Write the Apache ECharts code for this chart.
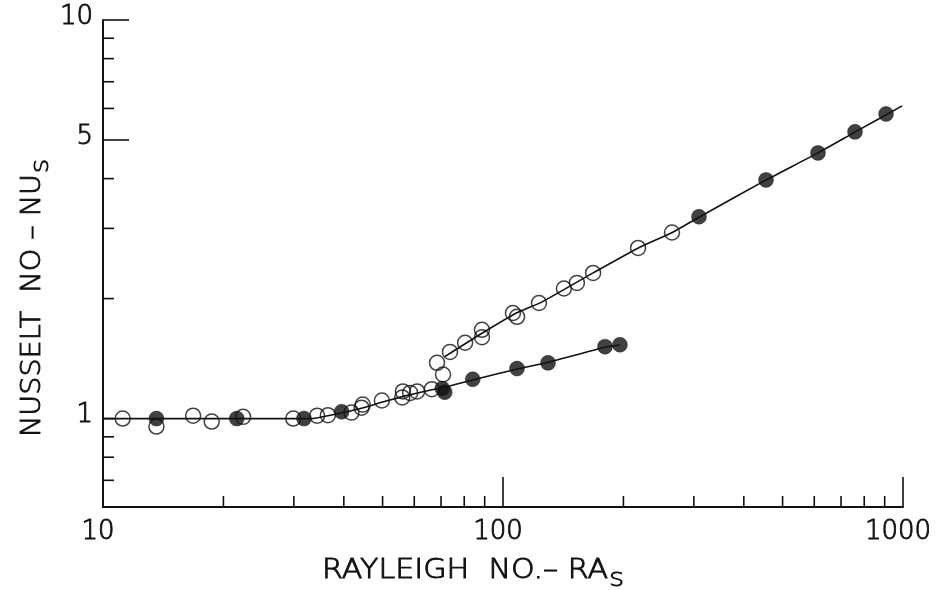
<!DOCTYPE html>
<html>
<head>
<meta charset="utf-8">
<title>Nusselt vs Rayleigh</title>
<script src="https://cdn.jsdelivr.net/npm/echarts@6.0.0/dist/echarts.min.js"></script>
<style>
    html, body { margin: 0; padding: 0; background: #fff; }
    #main { width: 942px; height: 590px; }
</style>
</head>
<body>
<div id="main"></div>
<script>
// open circles
var openRa = [11.2, 13.6, 16.8, 18.7, 22.4, 29.9, 34.3, 36.5, 41.8, 44.3, 44.6, 49.8, 56, 56.2, 58.6, 61, 66.4,
    68.4, 70.8, 73.7, 80.4, 88.6, 88.6, 105.9, 108.4, 123, 142, 153, 168, 217.6, 264.5];
var openNu = [1.0, 0.955, 1.017, 0.983, 1.01, 1.0, 1.017, 1.02, 1.035, 1.065, 1.084, 1.11, 1.13, 1.17, 1.16, 1.17, 1.185,
    1.38, 1.29, 1.47, 1.55, 1.60, 1.67, 1.84, 1.80, 1.95, 2.12, 2.19, 2.32, 2.68, 2.93];
// filled circles
var filledRa = [13.6, 21.6, 31.8, 39.5, 70.5, 71.5, 84, 108.4, 129.6, 179.9, 196, 309, 454.5, 613, 758.6, 907];
var filledNu = [1.0, 1.0, 1.0, 1.04, 1.19, 1.165, 1.255, 1.335, 1.38, 1.515, 1.532, 3.21, 3.97, 4.64, 5.24, 5.81];
// drawn curves
var lowerCurveRa = [10, 33, 38, 44, 50, 57, 66, 72, 84, 108, 130, 180, 196];
var lowerCurveNu = [1.0, 1.0, 1.025, 1.06, 1.1, 1.14, 1.18, 1.2, 1.25, 1.33, 1.385, 1.51, 1.53];
var upperCurveRa = [71.5, 88, 108, 125, 168, 218, 265, 309, 455, 613, 760, 995];
var upperCurveNu = [1.43, 1.63, 1.84, 1.96, 2.32, 2.68, 2.93, 3.2, 3.97, 4.64, 5.24, 6.09];
// axes
var xLabels = [10, 100, 1000];
var xMajorTicks = [100, 1000];
var xMinorTicks = [20, 30, 40, 50, 60, 70, 80, 90, 200, 300, 400, 500, 600, 700, 800, 900];
var yLabels = [1, 5, 10];
var yMajorTicks = [5, 10];
var yMinorTicks = [0.7, 0.8, 0.9, 1, 2, 3, 4, 6, 7, 8, 9];
var xMin = 10, xMax = 1000, yMin = 0.6, yMax = 10;

var FONT = 'DejaVu Sans';
var INK = '#111';
var TEXT_FONT = '200 26px "' + FONT + '"';

function pairs(xs, ys) {
    return xs.map(function (x, i) { return [x, ys[i]]; });
}

function xTickSeries(values, len) {
    return {
        type: 'custom',
        silent: true,
        data: values.map(function (v) { return [v, yMin]; }),
        renderItem: function (params, api) {
            var p = api.coord([api.value(0), yMin]);
            return {
                type: 'line',
                shape: { x1: p[0], y1: p[1], x2: p[0], y2: p[1] - len },
                style: { stroke: INK, lineWidth: 1.6 }
            };
        }
    };
}

function yTickSeries(values, len) {
    return {
        type: 'custom',
        silent: true,
        data: values.map(function (v) { return [xMin, v]; }),
        renderItem: function (params, api) {
            var p = api.coord([xMin, api.value(1)]);
            return {
                type: 'line',
                shape: { x1: p[0], y1: p[1], x2: p[0] + len, y2: p[1] },
                style: { stroke: INK, lineWidth: 1.6 }
            };
        }
    };
}

var subStyle = {
    fontSize: 20, fontWeight: 200, fontFamily: FONT, lineHeight: 22, padding: [19, 0, 0, 1],
    stroke: INK, lineWidth: 0.9
};

var dom = document.getElementById('main');
var myChart = echarts.init(dom, null, { renderer: 'canvas' });
var option = {
    animation: false,
    backgroundColor: '#fff',
    grid: { left: 103, right: 39, top: 20, bottom: 83, containLabel: false },
    xAxis: {
        type: 'log', logBase: 10, min: xMin, max: xMax,
        axisLine: { show: true, onZero: false, lineStyle: { color: INK, width: 2 } },
        axisTick: { show: false }, axisLabel: { show: false }, splitLine: { show: false }
    },
    yAxis: {
        type: 'log', logBase: 10, min: yMin, max: yMax,
        axisLine: { show: true, onZero: false, lineStyle: { color: INK, width: 2 } },
        axisTick: { show: false }, axisLabel: { show: false }, splitLine: { show: false }
    },
    graphic: [
        {
            type: 'text', x: 322, y: 571, scaleX: 1.16,
            style: {
                text: 'RAYLEIGH  NO.– RA{s|S}',
                fill: INK, stroke: INK, lineWidth: 0.9, font: TEXT_FONT,
                align: 'left', verticalAlign: 'middle',
                rich: { s: subStyle }
            }
        },
        {
            type: 'text', x: 33, y: 298, rotation: Math.PI / 2, scaleX: 1.1,
            style: {
                text: 'NUSSELT  NO – NU{s|S}',
                fill: INK, stroke: INK, lineWidth: 0.9, font: TEXT_FONT,
                align: 'center', verticalAlign: 'middle',
                rich: { s: subStyle }
            }
        }
    ],
    series: [
        {
            type: 'line', data: pairs(lowerCurveRa, lowerCurveNu), showSymbol: false, smooth: 0.2,
            lineStyle: { color: INK, width: 1.6 }, silent: true, z: 2
        },
        {
            type: 'line', data: pairs(upperCurveRa, upperCurveNu), showSymbol: false, smooth: 0.2,
            lineStyle: { color: INK, width: 1.6 }, silent: true, z: 2
        },
        {
            type: 'scatter', data: pairs(openRa, openNu), symbol: 'circle', symbolSize: 15,
            itemStyle: { color: 'rgba(255,255,255,0)', borderColor: INK, borderWidth: 1.5 }, z: 3
        },
        {
            type: 'scatter', data: pairs(filledRa, filledNu), symbol: 'circle', symbolSize: 15,
            itemStyle: { color: INK, borderColor: INK, borderWidth: 0.5 }, z: 4
        },
        xTickSeries(xMajorTicks, 30),
        xTickSeries(xMinorTicks, 11),
        yTickSeries(yMajorTicks, 26),
        yTickSeries(yMinorTicks, 11),
        {
            type: 'custom', silent: true,
            data: xLabels.map(function (v) { return [v, yMin]; }),
            renderItem: function (params, api) {
                var v = api.value(0);
                var p = api.coord([v, yMin]);
                return {
                    type: 'text', x: p[0] - 5, y: p[1] + 25,
                    style: {
                        text: String(v), fill: INK, stroke: INK, lineWidth: 0.9, font: TEXT_FONT,
                        align: 'center', verticalAlign: 'middle'
                    }
                };
            }
        },
        {
            type: 'custom', silent: true,
            data: yLabels.map(function (v) { return [xMin, v]; }),
            renderItem: function (params, api) {
                var v = api.value(1);
                var p = api.coord([xMin, v]);
                return {
                    type: 'text', x: p[0] - 10, y: p[1] - 3,
                    style: {
                        text: String(v), fill: INK, stroke: INK, lineWidth: 0.9, font: TEXT_FONT,
                        align: 'right', verticalAlign: 'middle'
                    }
                };
            }
        }
    ]
};
if (option && typeof option === 'object') {
    myChart.setOption(option, true);
}
</script>
</body>
</html>
